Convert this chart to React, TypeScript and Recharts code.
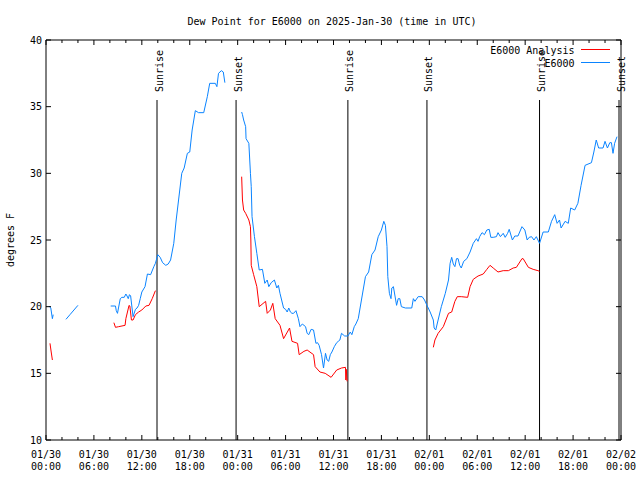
import React from 'react';
import { LineChart, Line, XAxis, YAxis, ReferenceLine, Legend } from 'recharts';

const FONT = '"DejaVu Sans Mono", "Liberation Mono", monospace';

// hours since 2025-01-30 00:00 UTC
const blueHours = [
  0.375, 0.6, 0.8, 0.9, 1.5,
  2.5, 3.0, 3.5, 4.0, 6.0,
  8.1, 8.7, 8.8, 8.95, 9.3, 9.5, 9.8, 10.0, 10.15, 10.3, 10.45, 10.6, 10.9, 11.2, 11.4, 11.6, 11.8,
  12.0, 12.4, 12.7, 13.1, 13.5, 13.7, 14.0, 14.3, 14.6, 15.0, 15.3, 15.6, 16.0, 16.3, 16.6, 17.0,
  17.3, 17.7, 18.0, 18.3, 18.7, 19.1, 19.75, 20.2, 20.5, 21.2, 21.4, 21.6, 21.96, 22.2, 22.4, 23.5,
  24.5, 24.6, 24.75, 25.0, 25.05, 25.4, 25.6, 25.7, 25.8, 26.1, 26.4, 26.7, 27.1, 27.4, 27.7, 27.9,
  28.2, 28.6, 28.9, 29.1, 29.3, 29.75, 30.0, 30.2, 30.4, 30.6, 30.8, 31.0, 31.3, 31.6, 31.8, 32.1,
  32.5, 32.7, 32.9, 33.2, 33.5, 33.8, 34.0, 34.2, 34.5, 34.75, 35.0, 35.2, 35.4, 35.6, 35.8, 36.1,
  36.4, 36.6, 36.8, 37.0, 37.4, 37.8, 38.1, 38.3, 38.6, 38.8, 39.1, 39.5, 40.0, 40.4, 40.8, 41.2,
  41.6, 42.0, 42.3, 42.5, 42.7, 42.8, 43.0, 43.2, 43.3, 43.5, 43.7, 43.9, 44.1, 44.3, 44.5, 45.0,
  45.8, 46.0, 46.2, 46.6, 47.1, 47.4, 47.7, 48.1, 48.5, 48.6, 48.8, 49.1, 49.5, 50.0, 50.4, 50.6,
  50.8, 51.0, 51.2, 51.4, 51.6, 51.8, 52.0, 52.3, 52.7, 53.1, 53.5, 53.9, 54.1, 54.3, 54.6, 54.9,
  55.2, 55.5, 55.7, 56.0, 56.4, 56.6, 56.9, 57.25, 57.5, 57.8, 58.0, 58.4, 58.7, 59.1, 59.6, 59.96,
  60.25, 60.5, 60.8, 61.1, 61.4, 61.8, 62.25, 62.9, 63.3, 63.7, 64.0, 64.3, 64.5, 65.0, 65.4, 65.7,
  66.2, 66.6, 67.0, 67.5, 68.3, 68.6, 68.9, 69.2, 69.75, 70.0, 70.3, 70.6, 70.8, 71.0, 71.2, 71.5,
];
const blueValues: (number | null)[] = [
  20.05, 19.9, 19.1, 19.4, null,
  19.05, 19.4, 19.75, 20.1, null,
  20.05, 20.05, 19.7, 19.5, 20.6, 20.7, 20.7, 20.95, 20.8, 20.6, 20.9, 20.8, 19.25, 19.8, 19.9, 20.1, 20.6,
  21.1, 21.5, 22.45, 22.4, 23.0, 23.25, 23.9, 23.7, 23.3, 23.1, 23.2, 23.5, 24.75, 26.5, 28.0, 30.0,
  30.4, 31.5, 31.6, 33.25, 34.7, 34.55, 34.55, 35.75, 36.75, 36.75, 36.5, 37.5, 37.7, 37.6, 36.8, null,
  34.6, 34.4, 34.0, 33.5, 32.6, 32.25, 30.0, 29.0, 26.75, 25.25, 24.0, 22.75, 22.8, 21.75, 22.0, 21.5,
  21.8, 22.0, 21.4, 21.6, 21.0, 19.9, 19.8, 19.6, 19.9, 19.6, 19.5, 19.5, 19.7, 19.1, 18.5, 18.7,
  18.5, 18.0, 17.9, 18.3, 18.25, 17.25, 17.3, 17.1, 16.4, 15.4, 16.5, 16.0, 15.9, 16.4, 16.6, 17.0,
  17.3, 17.4, 17.5, 18.0, 17.8, 17.8, 18.1, 17.9, 18.5, 18.7, 19.1, 20.5, 22.25, 22.6, 23.9, 24.25,
  25.25, 25.75, 26.4, 26.1, 24.5, 22.25, 21.0, 20.6, 21.4, 21.5, 20.8, 20.1, 20.6, 20.6, 20.0, 19.9,
  19.9, 20.6, 20.4, 20.75, 20.75, 20.5, 20.1, 19.6, 19.0, 18.4, 18.25, 19.0, 20.0, 21.0, 22.0, 23.25,
  23.7, 23.2, 23.0, 23.6, 23.6, 23.1, 22.9, 23.4, 23.6, 24.1, 24.75, 25.1, 24.9, 25.25, 25.55, 25.4,
  25.75, 25.8, 25.2, 25.2, 25.25, 25.55, 25.25, 25.5, 25.2, 25.5, 25.8, 25.0, 25.3, 25.3, 26.0, 25.75,
  25.0, 25.2, 25.25, 25.0, 25.25, 24.75, 25.6, 25.6, 26.4, 26.9, 26.25, 26.5, 25.9, 26.4, 26.25, 27.4,
  27.25, 27.75, 29.1, 30.6, 30.8, 31.6, 32.5, 31.9, 31.9, 32.4, 31.9, 32.3, 32.3, 31.5, 32.25, 32.75,
];

const redHours = [
  0.5, 0.65, 0.8, 2.0,
  8.5, 8.7, 9.1, 9.9, 10.0, 10.4, 10.5, 10.7, 10.9, 11.2, 11.6, 12.0, 12.5, 12.9, 13.3, 13.7, 18.0,
  24.5, 24.6, 24.75, 25.0, 25.4, 25.6, 25.65, 25.7, 26.0, 26.4, 26.7, 27.5, 27.7, 28.1, 28.4, 28.7,
  29.3, 29.75, 30.5, 30.8, 31.5, 31.7, 32.3, 32.7, 33.5, 33.7, 34.3, 34.96, 35.7, 36.4, 37.0, 37.5,
  37.55, 37.6, 37.7, 43.0,
  48.5, 48.7, 49.1, 49.75, 50.4, 50.8, 51.2, 51.5, 52.0, 52.8, 53.1, 53.5, 54.1, 54.75, 55.2, 55.6,
  56.0, 56.6, 57.25, 57.9, 58.5, 58.9, 59.6, 59.75, 60.4, 61.0, 61.6, 61.8,
];
const redValues: (number | null)[] = [
  17.25, 16.6, 16.0, null,
  18.8, 18.45, 18.5, 18.6, 19.1, 20.1, 20.05, 19.0, 19.0, 19.4, 19.6, 19.75, 20.05, 20.1, 20.6, 21.2, null,
  29.75, 28.0, 27.25, 27.0, 26.5, 26.0, 25.0, 23.1, 22.4, 21.5, 20.0, 20.4, 19.5, 19.75, 20.25, 19.1,
  18.6, 17.6, 18.4, 17.4, 17.25, 16.4, 16.65, 16.75, 16.4, 15.5, 15.1, 15.0, 14.7, 15.25, 15.4, 15.45,
  14.5, 15.3, 14.4, null,
  16.95, 17.5, 18.0, 18.5, 19.5, 19.6, 20.4, 20.75, 20.75, 20.7, 21.5, 22.05, 22.3, 22.45, 22.8, 23.1,
  22.9, 22.6, 22.7, 22.7, 22.9, 22.95, 23.6, 23.6, 22.95, 22.8, 22.7, 22.65,
];

const xTicks = [0, 2, 4, 6, 8, 10, 12, 14, 16, 18, 20, 22, 24, 26, 28, 30, 32, 34, 36, 38, 40, 42, 44, 46, 48, 50, 52, 54, 56, 58, 60, 62, 64, 66, 68, 70, 72];
const tickDates = ['01/30', '01/30', '01/30', '01/30', '01/31', '01/31', '01/31', '01/31', '02/01', '02/01', '02/01', '02/01', '02/02'];
const tickTimes = ['00:00', '06:00', '12:00', '18:00', '00:00', '06:00', '12:00', '18:00', '00:00', '06:00', '12:00', '18:00', '00:00'];
const yTicks = [10, 15, 20, 25, 30, 35, 40];

const sunHours = [13.9, 23.8, 37.8, 47.7, 61.8, 71.75];
const sunLabels = ['Sunrise', 'Sunset', 'Sunrise', 'Sunset', 'Sunrise', 'Sunset'];
const sunLineTop = 35.5;

const TITLE = 'Dew Point for E6000 on 2025-Jan-30 (time in UTC)';
const Y_LABEL = 'degrees F';
const BLUE_NAME = 'E6000';
const RED_NAME = 'E6000 Analysis';
const legendOrder = [RED_NAME, BLUE_NAME];

const blueData = blueHours.map((h, i) => ({ h, v: blueValues[i] }));
const redData = redHours.map((h, i) => ({ h, v: redValues[i] }));

const BLUE = '#0a84ff';
const RED = '#ff0000';

const BottomTick = (props: any) => {
  const { x, y, payload } = props;
  const v = payload.value as number;
  const major = v % 6 === 0;
  const len = major ? 5 : 3;
  const idx = v / 6;
  return (
    <g>
      <line x1={x} x2={x} y1={y} y2={y - len} stroke="#000" />
      {major && (
        <text textAnchor="middle" fontFamily={FONT} fontSize={10} fill="#000">
          <tspan x={x} y={y + 18}>{tickDates[idx]}</tspan>
          <tspan x={x} y={y + 30}>{tickTimes[idx]}</tspan>
        </text>
      )}
    </g>
  );
};

const TopTick = (props: any) => {
  const { x, y, payload } = props;
  const v = payload.value as number;
  const len = v % 6 === 0 ? 5 : 3;
  return <line x1={x} x2={x} y1={y} y2={y + len} stroke="#000" />;
};

const LeftTick = (props: any) => {
  const { x, y, payload } = props;
  return (
    <g>
      <line x1={x} x2={x + 5} y1={y} y2={y} stroke="#000" />
      <text x={x - 4} y={y + 3.5} textAnchor="end" fontFamily={FONT} fontSize={10} fill="#000">
        {payload.value}
      </text>
    </g>
  );
};

const RightTick = (props: any) => {
  const { x, y } = props;
  return <line x1={x - 5} x2={x} y1={y} y2={y} stroke="#000" />;
};

const yLabel = () => (
  <text
    x={13.5}
    y={240}
    transform="rotate(-90 13.5 240)"
    textAnchor="middle"
    fontFamily={FONT}
    fontSize={10}
    fill="#000"
  >
    {Y_LABEL}
  </text>
);

const sunLabel = (text: string) => (props: any) => {
  const vb = props.viewBox || {};
  const x = (vb.x ?? 0) + 5.5;
  const y = (vb.y ?? 100) - 8;
  return (
    <text x={x} y={y} transform={`rotate(-90 ${x} ${y})`} textAnchor="start" fontFamily={FONT} fontSize={10} fill="#000">
      {text}
    </text>
  );
};

const renderLegend = (props: any) => {
  const items = [...(props.payload || [])].sort(
    (a: any, b: any) => legendOrder.indexOf(a.value) - legendOrder.indexOf(b.value)
  );
  return (
    <svg width={640} height={80} style={{ display: 'block', overflow: 'visible' }}>
      {items.map((it: any, i: number) => (
        <g key={i}>
          <text x={574.5} y={53.5 + i * 13} textAnchor="end" fontFamily={FONT} fontSize={10} fill="#000">
            {it.value}
          </text>
          <line x1={581} x2={610} y1={49.5 + i * 13} y2={49.5 + i * 13} stroke={it.color} />
        </g>
      ))}
    </svg>
  );
};

export default function App() {
  return (
    <div style={{ position: 'absolute', left: 0, top: 0, width: 640, height: 480, background: '#fff' }}>
      <svg width={640} height={30} style={{ position: 'absolute', left: 0, top: 0 }}>
        <text x={332} y={24.5} textAnchor="middle" fontFamily={FONT} fontSize={10} fill="#000">
          {TITLE}
        </text>
      </svg>
      <div style={{ position: 'absolute', left: 0, top: 0 }}>
        <LineChart width={640} height={480} margin={{ top: 39, right: 18, bottom: 0, left: 0 }}>
          <XAxis
            type="number"
            dataKey="h"
            domain={[0, 72]}
            allowDataOverflow
            ticks={xTicks}
            interval={0}
            tickSize={0}
            tickMargin={0}
            tickLine={false}
            tick={BottomTick}
            axisLine={{ stroke: '#000' }}
            height={40}
          />
          <XAxis
            xAxisId="top"
            orientation="top"
            type="number"
            dataKey="h"
            domain={[0, 72]}
            allowDataOverflow
            ticks={xTicks}
            interval={0}
            tickSize={0}
            tickMargin={0}
            tickLine={false}
            tick={TopTick}
            axisLine={{ stroke: '#000' }}
            height={1}
          />
          <YAxis
            type="number"
            domain={[10, 40]}
            allowDataOverflow
            ticks={yTicks}
            interval={0}
            tickSize={0}
            tickMargin={0}
            tickLine={false}
            tick={LeftTick}
            axisLine={{ stroke: '#000' }}
            width={46}
            label={yLabel}
          />
          <YAxis
            yAxisId="right"
            orientation="right"
            type="number"
            domain={[10, 40]}
            allowDataOverflow
            ticks={yTicks}
            interval={0}
            tickSize={0}
            tickMargin={0}
            tickLine={false}
            tick={RightTick}
            axisLine={{ stroke: '#000' }}
            width={1}
          />
          {sunHours.map((h, i) => (
            <ReferenceLine
              key={i}
              segment={[{ x: h, y: 10 }, { x: h, y: sunLineTop }]}
              stroke="#000"
              strokeWidth={1}
              label={sunLabel(sunLabels[i])}
            />
          ))}
          <Line
            data={redData}
            dataKey="v"
            name={RED_NAME}
            stroke={RED}
            strokeWidth={1}
            dot={false}
            activeDot={false}
            connectNulls={false}
            isAnimationActive={false}
            type="linear"
          />
          <Line
            data={blueData}
            dataKey="v"
            name={BLUE_NAME}
            stroke={BLUE}
            strokeWidth={1}
            dot={false}
            activeDot={false}
            connectNulls={false}
            isAnimationActive={false}
            type="linear"
          />
          <Legend
            content={renderLegend}
            layout="vertical"
            align="center"
            verticalAlign="middle"
            wrapperStyle={{ left: 0, top: 0, width: 640, height: 80 }}
          />
        </LineChart>
      </div>
    </div>
  );
}
